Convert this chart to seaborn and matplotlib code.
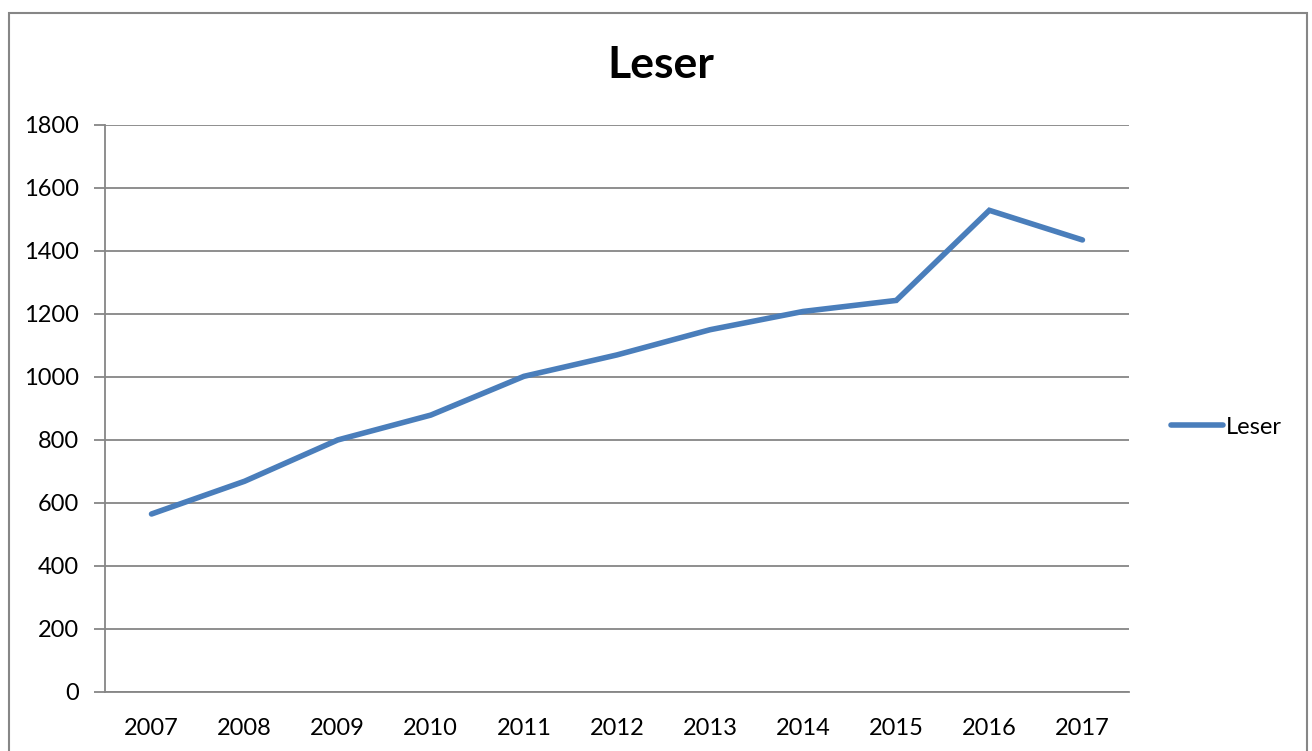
import matplotlib
matplotlib.use("Agg")
import matplotlib.pyplot as plt
import seaborn as sns
import pandas as pd
from matplotlib.patches import Rectangle
from matplotlib.ticker import MultipleLocator, FixedLocator

# Leserzahlen pro Jahr
years = ["2007", "2008", "2009", "2010", "2011", "2012",
         "2013", "2014", "2015", "2016", "2017"]
leser = [565, 669, 800, 879, 1002, 1070, 1150, 1208, 1243, 1529, 1435]

data = pd.DataFrame({"Jahr": years, "Leser": leser})

sns.set_style("white")
plt.rcParams["font.family"] = ["Lato", "DejaVu Sans"]
plt.rcParams["text.color"] = "black"
plt.rcParams["xtick.labelcolor"] = "black"
plt.rcParams["ytick.labelcolor"] = "black"

grey = "#868686"
blue = "#4A7EBB"

fig = plt.figure(figsize=(13.12, 7.51), dpi=100)
ax = fig.add_axes([0.080, 0.0786, 0.7805, 0.755])

sns.lineplot(data=data, x="Jahr", y="Leser", ax=ax, color=blue,
             linewidth=4, label="Leser", sort=False)
ax.lines[0].set_solid_capstyle("round")
ax.lines[0].set_solid_joinstyle("miter")

# y-Achse
ax.set_ylim(0, 1800)
ax.yaxis.set_major_locator(MultipleLocator(200))
ax.grid(axis="y", color=grey, linewidth=1.3)
ax.grid(axis="x", visible=False)
ax.set_axisbelow(True)

# x-Achse: Kategorien, Striche zwischen den Kategorien
ax.set_xlim(-0.5, len(years) - 0.5)
ax.xaxis.set_minor_locator(FixedLocator([i - 0.5 for i in range(len(years) + 1)]))
ax.tick_params(axis="x", which="major", length=0, pad=19, labelsize=17)
ax.tick_params(axis="x", which="minor", length=8, width=1.3, color=grey,
               direction="out")
ax.tick_params(axis="y", length=8, width=1.3, color=grey, pad=11,
               labelsize=17, left=True)

for s in ["top", "right"]:
    ax.spines[s].set_visible(False)
for s in ["left", "bottom"]:
    ax.spines[s].set_color(grey)
    ax.spines[s].set_linewidth(1.3)

ax.set_xlabel("")
ax.set_ylabel("")

fig.text(0.504, 0.913, "Leser", fontsize=32, fontweight="bold",
         ha="center", va="center", color="black")

ax.legend(loc="center left", bbox_to_anchor=(1.02, 0.467), frameon=False,
          fontsize=17, handlelength=2.2, handletextpad=0.15)

# Rahmen um das Diagramm
fig.patches.append(Rectangle((0.0069, -0.05), 0.9893, 1.0327,
                             transform=fig.transFigure, fill=False,
                             edgecolor=grey, linewidth=1.5))

plt.savefig("out.png", dpi=100)
